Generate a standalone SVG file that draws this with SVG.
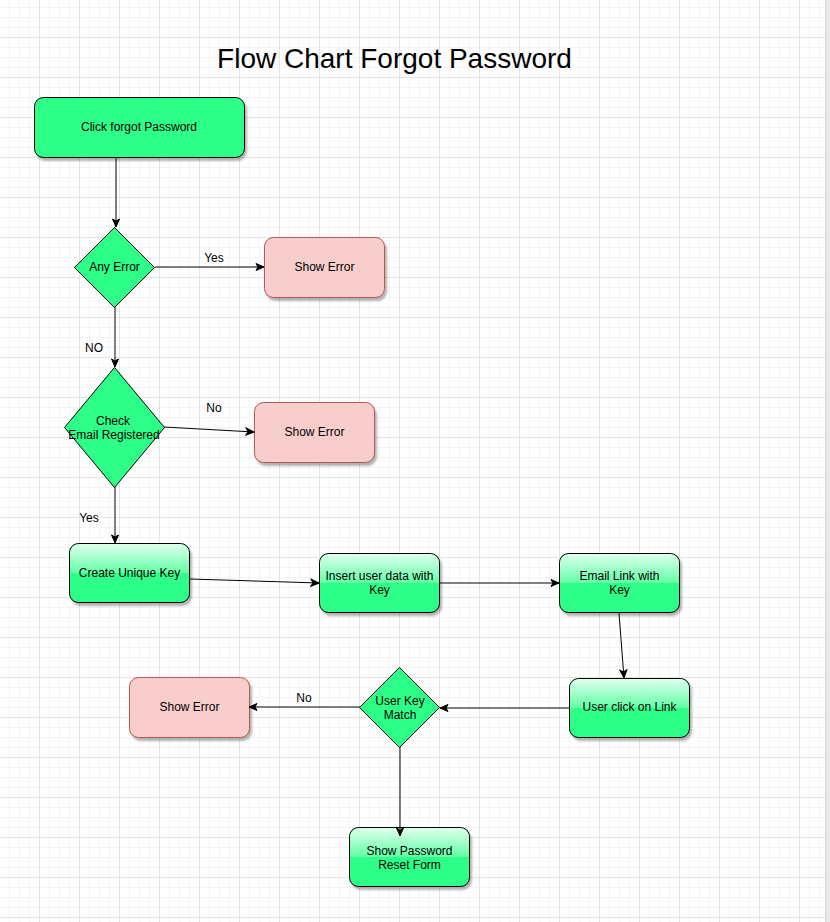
<svg xmlns="http://www.w3.org/2000/svg" width="830" height="922" viewBox="0 0 830 922">
<style>
text{font-family:"Liberation Sans",Arial,sans-serif;font-size:12px;fill:#000;text-anchor:middle}
.title{font-size:28px}
.g{fill:#2eff88;stroke:#000;stroke-width:1}
.err{fill:#f8cecc;stroke:#b85450;stroke-width:1}
.gloss{fill:url(#gl);stroke:none}
.edge{fill:none;stroke:#000;stroke-width:1}
</style>
<defs>
<pattern id="grid" x="39" y="37" width="40" height="40" patternUnits="userSpaceOnUse">
<rect x="0" y="0" width="40" height="40" fill="#fff"/>
<rect x="10" y="0" width="1" height="40" fill="#f4f4f4"/>
<rect x="20" y="0" width="1" height="40" fill="#f4f4f4"/>
<rect x="30" y="0" width="1" height="40" fill="#f4f4f4"/>
<rect x="0" y="10" width="40" height="1" fill="#f4f4f4"/>
<rect x="0" y="20" width="40" height="1" fill="#f4f4f4"/>
<rect x="0" y="30" width="40" height="1" fill="#f4f4f4"/>
<rect x="0" y="0" width="1" height="40" fill="#e4e4e4"/>
<rect x="0" y="0" width="40" height="1" fill="#e4e4e4"/>
</pattern>
<filter id="sh" x="-10%" y="-10%" width="130%" height="140%">
<feDropShadow dx="2" dy="3" stdDeviation="1.2" flood-color="#000" flood-opacity="0.3"/>
</filter>
<linearGradient id="gl" x1="0" y1="0" x2="0" y2="1">
<stop offset="0" stop-color="#ffffff" stop-opacity="0.85"/>
<stop offset="1" stop-color="#ffffff" stop-opacity="0.25"/>
</linearGradient>
<marker id="arr" markerWidth="10" markerHeight="10" refX="9" refY="5" orient="auto" markerUnits="userSpaceOnUse">
<path d="M1,1.5 L9,5 L1,8.5 L3,5 Z" fill="#000" stroke="#000" stroke-width="1"/>
</marker>
</defs>
<rect x="0" y="0" width="830" height="922" fill="url(#grid)"/>
<rect x="825" y="0" width="5" height="922" fill="#e8e8e8"/>
<rect x="825" y="0" width="1" height="922" fill="#d4d4d4"/>

<text class="title" x="394.5" y="68">Flow Chart Forgot Password</text>

<g id="n1">
<rect class="g" x="34.5" y="97.5" width="210" height="60" rx="9" filter="url(#sh)"/>
<text x="139" y="131">Click forgot Password</text>
</g>

<g id="n2">
<polygon class="g" points="114.5,227.5 154.5,267.5 114.5,307.5 74.5,267.5"/>
<text x="114.5" y="271">Any Error</text>
</g>

<g id="n3">
<rect class="err" x="264.5" y="237.5" width="120" height="60" rx="9" filter="url(#sh)"/>
<text x="324.5" y="271">Show Error</text>
</g>

<g id="n4">
<polygon class="g" points="114.5,367.5 164.5,427.5 114.5,487.5 64.5,427.5"/>
<text x="113" y="425">Check</text>
<text x="114" y="439">Email Registered</text>
</g>

<g id="n5">
<rect class="err" x="254.5" y="402.5" width="120" height="60" rx="9" filter="url(#sh)"/>
<text x="314.5" y="436">Show Error</text>
</g>

<g id="n6">
<rect class="g" x="69.5" y="543.5" width="120" height="59" rx="9" filter="url(#sh)"/>
<path class="gloss" d="M79,544 H180 A9,9 0 0 1 189,553 V573 H70 V553 A9,9 0 0 1 79,544 Z"/>
<text x="129.5" y="577">Create Unique Key</text>
</g>

<g id="n7">
<rect class="g" x="319.5" y="553.5" width="120" height="59" rx="9" filter="url(#sh)"/>
<path class="gloss" d="M329,554 H430 A9,9 0 0 1 439,563 V583 H320 V563 A9,9 0 0 1 329,554 Z"/>
<text x="379.5" y="580">Insert user data with</text>
<text x="379.5" y="594">Key</text>
</g>

<g id="n8">
<rect class="g" x="559.5" y="553.5" width="120" height="59" rx="9" filter="url(#sh)"/>
<path class="gloss" d="M569,554 H670 A9,9 0 0 1 679,563 V583 H560 V563 A9,9 0 0 1 569,554 Z"/>
<text x="619.5" y="580">Email Link with</text>
<text x="619.5" y="594">Key</text>
</g>

<g id="n9">
<rect class="g" x="569.5" y="678.5" width="120" height="59" rx="9" filter="url(#sh)"/>
<path class="gloss" d="M579,679 H680 A9,9 0 0 1 689,688 V708 H570 V688 A9,9 0 0 1 579,679 Z"/>
<text x="629.5" y="711">User click on Link</text>
</g>

<g id="n10">
<polygon class="g" points="399.5,667.5 439.5,707.5 399.5,747.5 359.5,707.5"/>
<text x="400" y="705">User Key</text>
<text x="400" y="719">Match</text>
</g>

<g id="n11">
<rect class="err" x="129.5" y="677.5" width="120" height="60" rx="9" filter="url(#sh)"/>
<text x="189.5" y="711">Show Error</text>
</g>

<g id="n12">
<rect class="g" x="349.5" y="827.5" width="120" height="59" rx="9" filter="url(#sh)"/>
<path class="gloss" d="M359,828 H460 A9,9 0 0 1 469,837 V857 H350 V837 A9,9 0 0 1 359,828 Z"/>
<text x="409.5" y="855">Show Password</text>
<text x="409.5" y="869">Reset Form</text>
</g>

<g id="edges">
<path class="edge" d="M116,157 L116,227" marker-end="url(#arr)"/>
<path class="edge" d="M155,267 L264,267" marker-end="url(#arr)"/>
<text x="214" y="262">Yes</text>
<path class="edge" d="M115,307 L115,367" marker-end="url(#arr)"/>
<text x="94" y="352">NO</text>
<path class="edge" d="M164,427 L254,432" marker-end="url(#arr)"/>
<text x="214" y="412">No</text>
<path class="edge" d="M115,487 L115,543" marker-end="url(#arr)"/>
<text x="89" y="522">Yes</text>
<path class="edge" d="M190,579 L319,583" marker-end="url(#arr)"/>
<path class="edge" d="M440,583 L559,583" marker-end="url(#arr)"/>
<path class="edge" d="M619,613 L624,678" marker-end="url(#arr)"/>
<path class="edge" d="M569,708 L440,708" marker-end="url(#arr)"/>
<path class="edge" d="M360,707 L249,707" marker-end="url(#arr)"/>
<text x="304" y="702">No</text>
<path class="edge" d="M400,747 L400,836" marker-end="url(#arr)"/>
</g>
</svg>
